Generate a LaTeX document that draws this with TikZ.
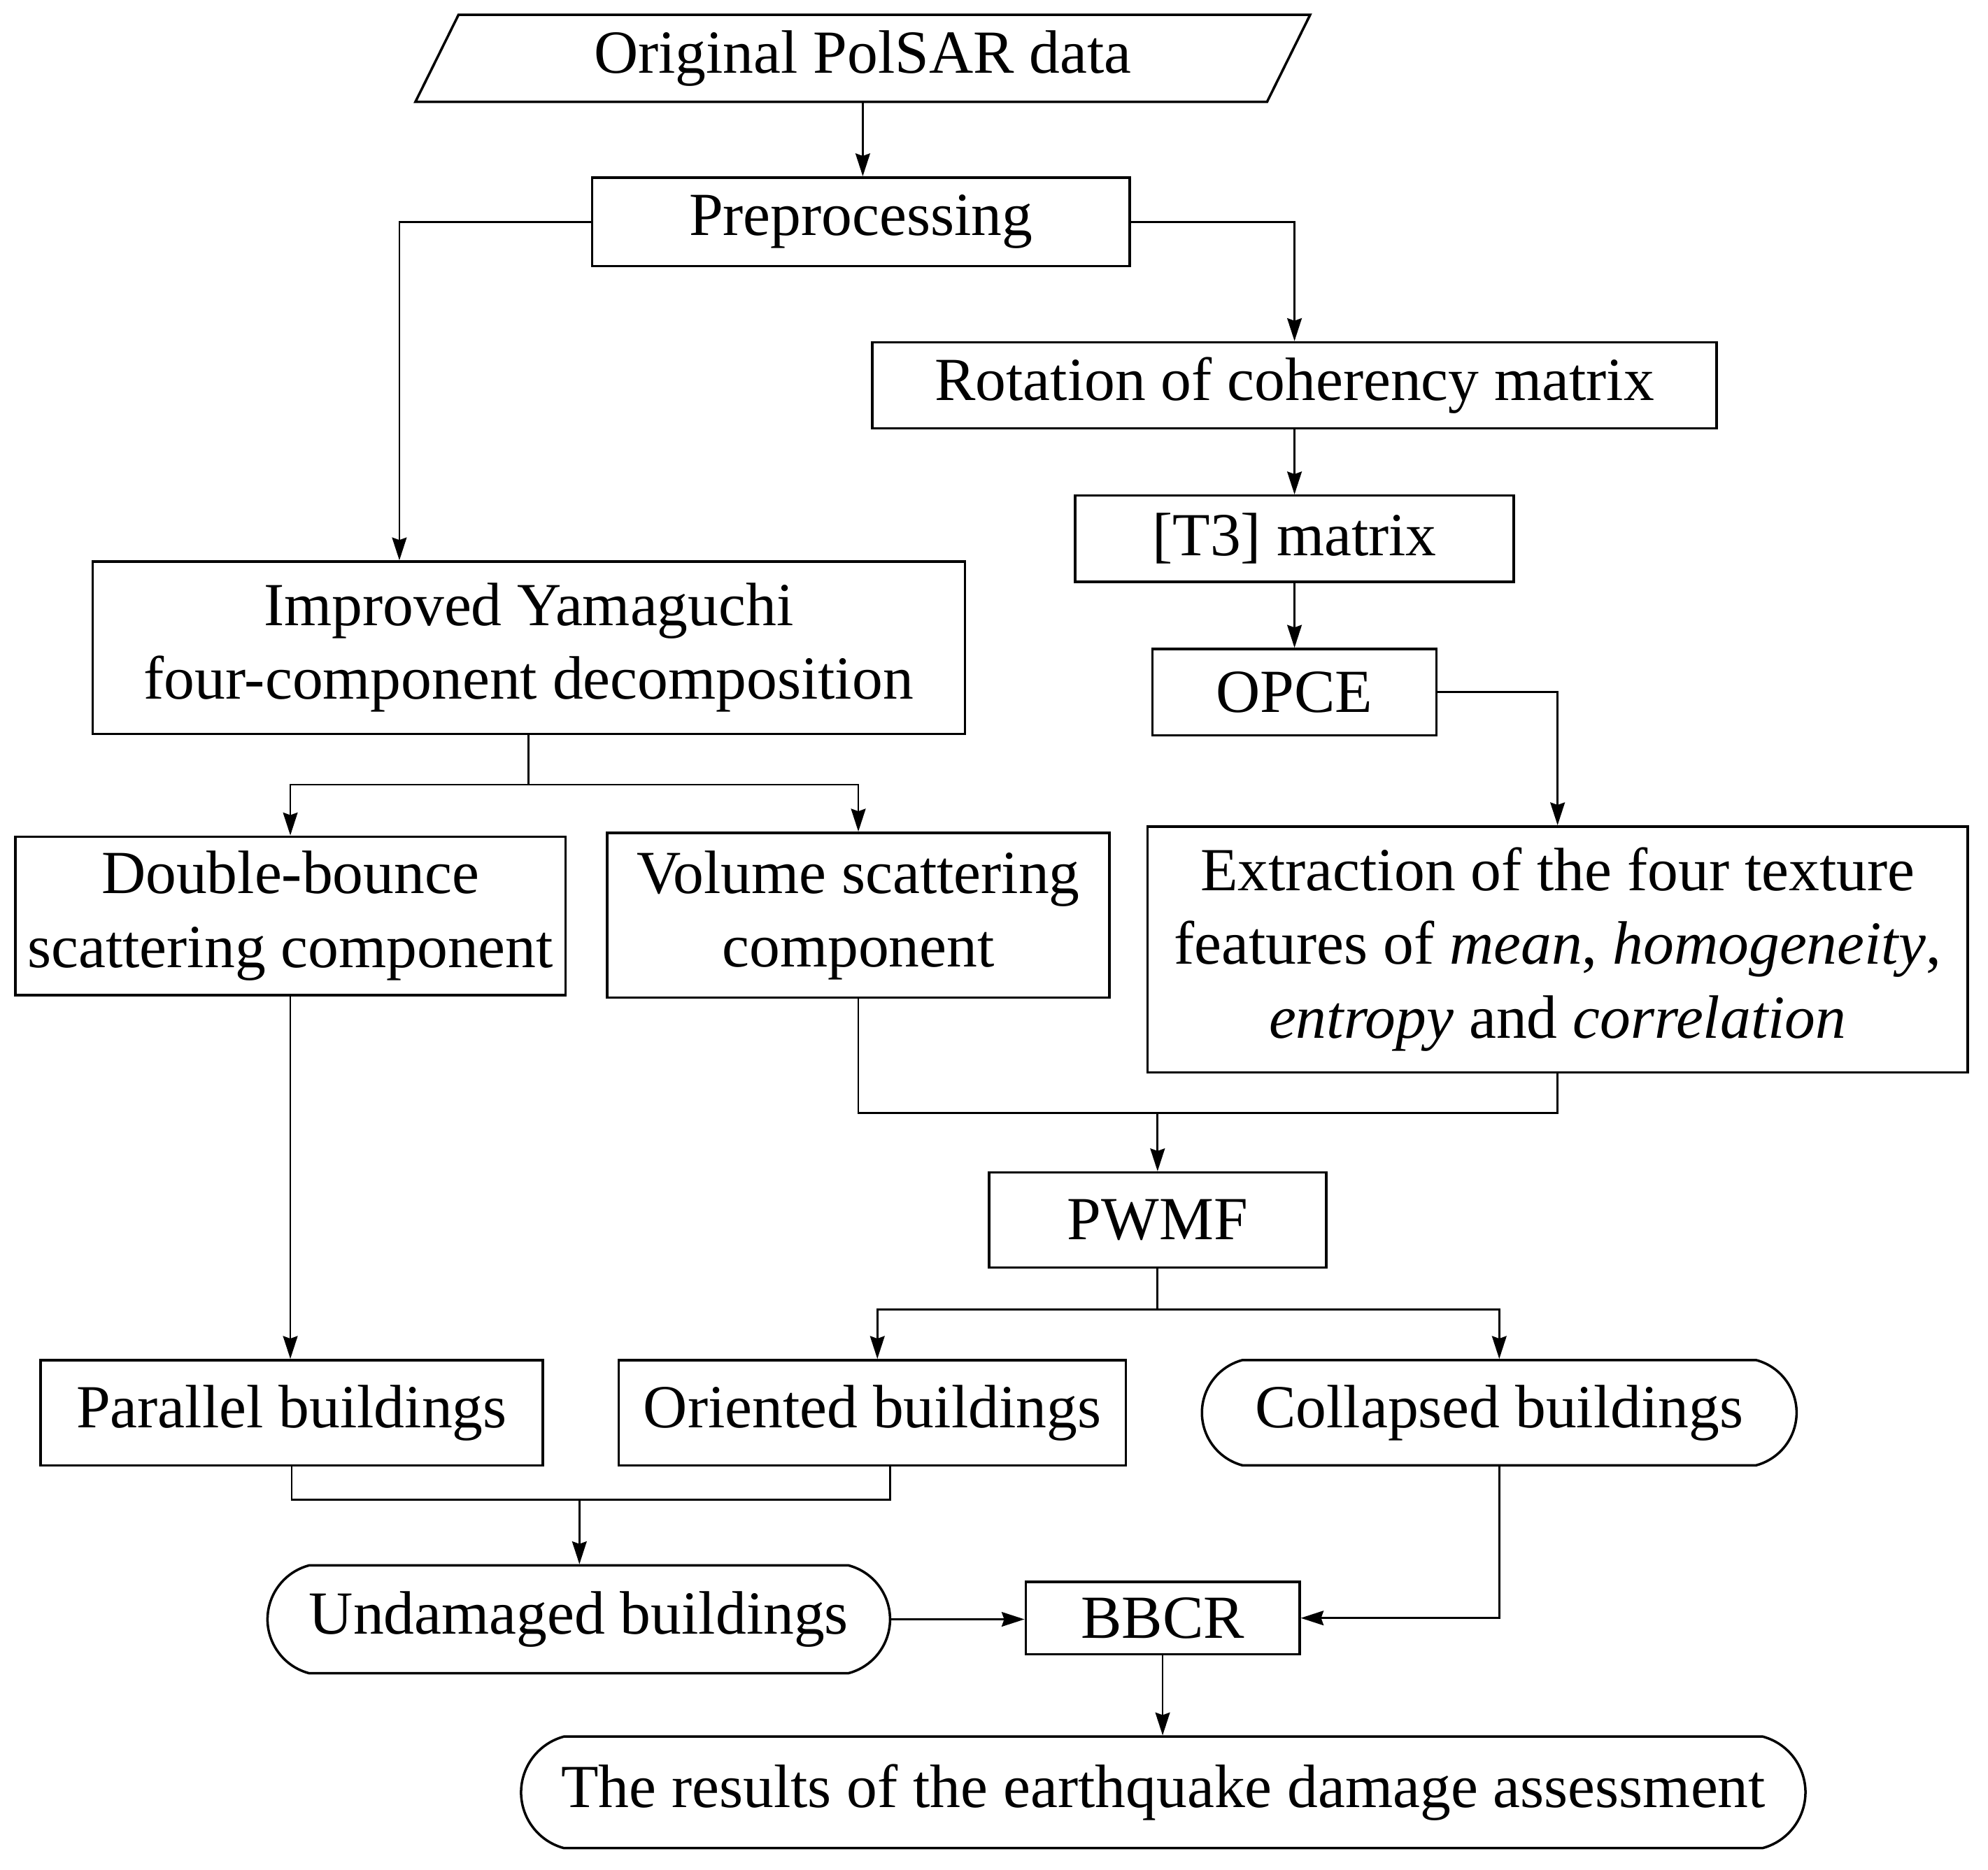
\documentclass[tikz,border=0pt]{standalone}
\usepackage{fontspec}
\setmainfont{Liberation Serif}
\usetikzlibrary{arrows.meta,calc,shapes.misc}
\begin{document}
\begin{tikzpicture}[x=0.02cm,y=-0.02cm,
  txt/.style={font=\fontsize{27.5}{33}\selectfont, align=center, inner sep=0pt},
  bx/.style 2 args={txt, draw, line width=1.1pt, rectangle, minimum width={#1*0.02cm}, minimum height={#2*0.02cm}},
  term/.style 2 args={txt, draw, line width=1.1pt, rounded rectangle, rounded rectangle arc length=150, minimum width={#1*0.02cm}, minimum height={#2*0.02cm}},
  conn/.style={line width=0.85pt},
  arr/.style={conn, -{Stealth[length=0.36cm,width=0.23cm,inset=0.04cm]}}
]
\useasboundingbox (0,0) rectangle (1568,1475);

% input parallelogram
\node[txt, minimum width={637*0.02cm}, minimum height={68*0.02cm}] (orig) at (680.5,46) {Original PolSAR data};
\draw[line width=1.1pt] (orig.north west) -- ($(orig.north east)+(34,0)$) -- (orig.south east) -- ($(orig.south west)+(-34,0)$) -- cycle;

\node[bx={424}{70}] (prep) at (679,175) {Preprocessing};
\node[bx={666}{68}] (rot) at (1021,304) {Rotation of coherency matrix};
\node[bx={346}{68}] (t3) at (1021,425) {[T3] matrix};
\node[bx={224}{68}] (opce) at (1021,546) {OPCE};
\node[bx={647}{194}] (extr) at (1228.5,749) {Extraction of the four texture\\features of \textit{mean}, \textit{homogeneity},\\\textit{entropy} and \textit{correlation}};
\node[bx={688}{136}] (yam) at (417,511) {Improved Yamaguchi\\four-component decomposition};
\node[bx={434}{125}] (dbl) at (229,722.5) {Double-bounce\\scattering component};
\node[bx={396}{130}] (vol) at (677,722) {Volume scattering\\component};
\node[bx={266}{75}] (pwmf) at (913,962.5) {PWMF};
\node[bx={396}{83}] (par) at (230,1114.5) {Parallel buildings};
\node[bx={400}{83}] (ori) at (688,1114.5) {Oriented buildings};
\node[term={469}{83}] (col) at (1182.5,1114.5) {Collapsed buildings};
\node[term={491}{85}] (und) at (456.5,1277.5) {Undamaged buildings};
\node[bx={216}{57}] (bbcr) at (917,1276.5) {BBCR};
\node[term={1013}{88}] (res) at (917.5,1414) {The results of the earthquake damage assessment};

% connectors
\draw[arr] (orig.south) -- (orig.south |- prep.north);
\draw[arr] (prep.west) -| ($(yam.north)+(-102,0)$);
\draw[arr] (prep.east) -| (rot.north);
\draw[arr] (rot.south) -- (t3.north);
\draw[arr] (t3.south) -- (opce.north);
\draw[arr] (opce.east) -| (extr.north);

\coordinate (j1) at ($(yam.south)+(0,39)$);
\draw[conn] (yam.south) -- (j1);
\draw[arr] (j1) -| (dbl.north);
\draw[arr] (j1) -| (vol.north);

\coordinate (j2) at (913,878);
\draw[conn] (vol.south) |- (j2) -| (extr.south);
\draw[arr] (j2) -- (pwmf.north);

\coordinate (j3) at ($(pwmf.south)+(0,32)$);
\draw[conn] (pwmf.south) -- (j3);
\draw[arr] (j3) -| ($(ori.north)+(4,0)$);
\draw[arr] (j3) -| (col.north);

\draw[arr] (dbl.south) -- (dbl.south |- par.north);

\coordinate (j4) at (457,1183);
\draw[conn] (par.south) |- (j4) -| ($(ori.south)+(14,0)$);
\draw[arr] (j4) -- (j4 |- und.north);
\draw[arr] (und.east) -- (und.east -| bbcr.west);
\draw[arr] (col.south) |- (bbcr.east);
\draw[arr] (bbcr.south) -- (bbcr.south |- res.north);
\end{tikzpicture}
\end{document}
